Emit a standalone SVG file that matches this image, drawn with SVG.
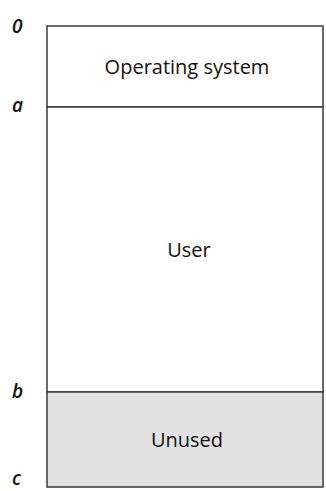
<svg xmlns="http://www.w3.org/2000/svg" width="326" height="491" viewBox="0 0 326 491">
<style>
.box{stroke:#3a3a3a;stroke-width:1.5}
.lbl{font-family:"Open Sans","Liberation Sans",sans-serif;font-size:20px;fill:#111111;text-anchor:middle}
.addr{font-family:"Open Sans","Liberation Sans",sans-serif;font-size:19px;font-style:italic;font-weight:600;fill:#111111}
</style>
<rect width="326" height="491" fill="#ffffff"/>
<g id="os">
<rect class="box" x="47" y="26" width="276" height="81" fill="#ffffff"/>
<text class="lbl" x="187" y="74">Operating system</text>
</g>
<g id="user">
<rect class="box" x="47" y="107" width="276" height="285" fill="#ffffff"/>
<text class="lbl" x="189" y="257">User</text>
</g>
<g id="unused">
<rect class="box" x="47" y="392" width="276" height="95" fill="#e2e2e2"/>
<text class="lbl" x="187" y="447">Unused</text>
</g>
<g id="addresses">
<text class="addr" x="12" y="33">0</text>
<text class="addr" x="12" y="112">a</text>
<text class="addr" x="12" y="398">b</text>
<text class="addr" x="12" y="485">c</text>
</g>
</svg>
